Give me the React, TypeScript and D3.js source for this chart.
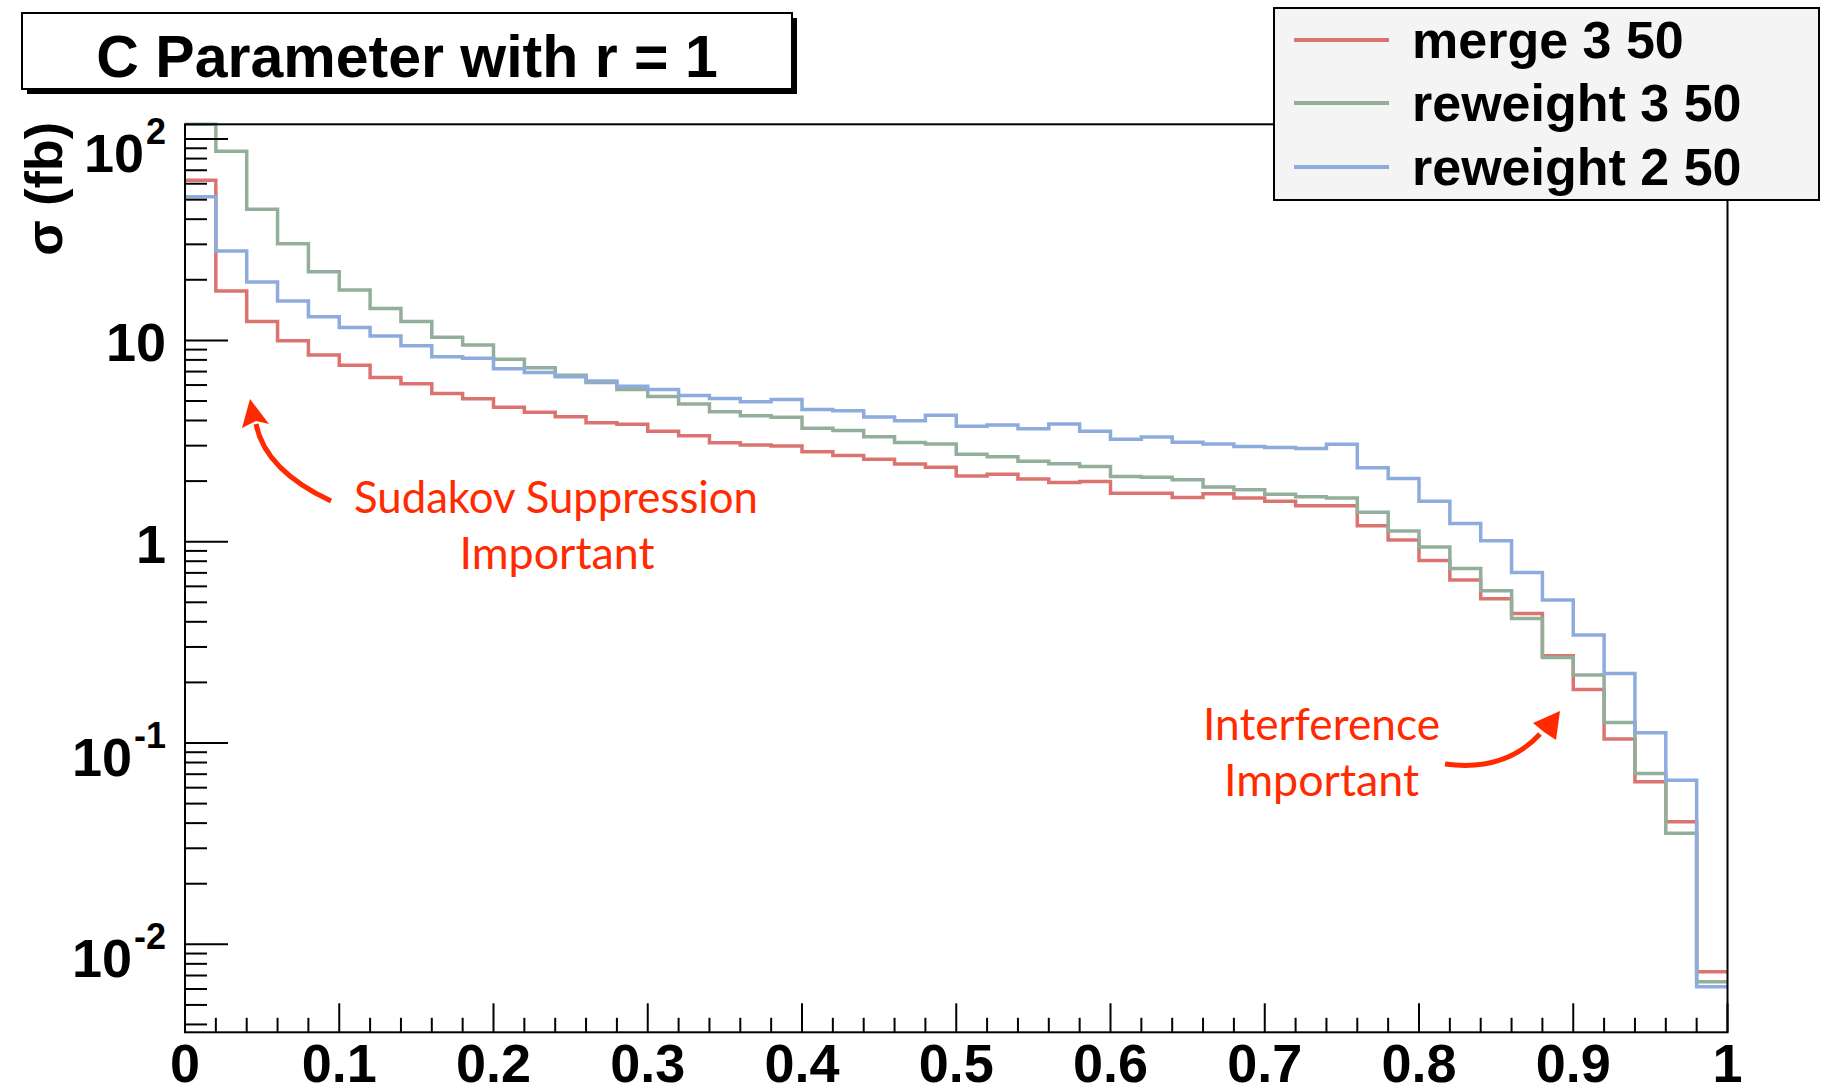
import React from "react";
import * as d3 from "d3";

// ---------- data ----------
const binLowEdges = d3.range(50).map((i) => i * 0.02);
const binUpperEdge = 1.0;

const mergeValues = [
  62.5, 17.6, 12.4, 9.95, 8.45, 7.53, 6.55, 6.09, 5.45, 5.13,
  4.65, 4.39, 4.18, 3.9, 3.83, 3.54, 3.36, 3.1, 3.02, 2.99,
  2.8, 2.68, 2.57, 2.43, 2.34, 2.12, 2.16, 2.05, 1.97, 1.99,
  1.74, 1.74, 1.66, 1.73, 1.65, 1.59, 1.51, 1.51, 1.2, 1.02,
  0.807, 0.645, 0.52, 0.44, 0.271, 0.1845, 0.1046, 0.0642, 0.0406, 0.0073,
];
const reweight3Values = [
  125, 87.1, 44.8, 30.2, 21.9, 17.8, 14.4, 12.4, 10.35, 9.48,
  8.07, 7.31, 6.72, 6.18, 5.71, 5.27, 4.83, 4.42, 4.22, 4.15,
  3.66, 3.57, 3.32, 3.11, 3.06, 2.72, 2.64, 2.51, 2.44, 2.36,
  2.11, 2.09, 2.03, 1.87, 1.81, 1.72, 1.67, 1.65, 1.4, 1.13,
  0.94, 0.736, 0.571, 0.416, 0.266, 0.2175, 0.1265, 0.0706, 0.0356, 0.00651,
];
const reweight2Values = [
  51.7, 27.8, 19.5, 15.7, 13.1, 11.6, 10.5, 9.4, 8.29, 8.14,
  7.22, 6.93, 6.6, 6.28, 5.91, 5.71, 5.33, 5.15, 4.96, 5.09,
  4.53, 4.47, 4.16, 3.99, 4.25, 3.74, 3.8, 3.64, 3.84, 3.54,
  3.23, 3.31, 3.12, 3.06, 2.97, 2.94, 2.9, 3.05, 2.33, 2.06,
  1.59, 1.23, 1.01, 0.703, 0.513, 0.344, 0.2216, 0.1124, 0.0654, 0.00615,
];

const seriesNames = ["merge 3 50", "reweight 3 50", "reweight 2 50"];
const seriesColors = ["#db7470", "#93ae9a", "#8dabdc"];
const seriesValues = [mergeValues, reweight3Values, reweight2Values];

const xTickValues = [0, 0.1, 0.2, 0.3, 0.4, 0.5, 0.6, 0.7, 0.8, 0.9, 1];
const xTickLabels = ["0", "0.1", "0.2", "0.3", "0.4", "0.5", "0.6", "0.7", "0.8", "0.9", "1"];
const yTickValues = [100, 10, 1, 0.1, 0.01];
const yTickBase = ["10", "10", "1", "10", "10"];
const yTickExp = ["2", "", "", "-1", "-2"];

const titleText = "C Parameter with r = 1";
const yAxisTitle = "σ (fb)";

// ---------- layout ----------
const W = 1821;
const H = 1089;
const L = 185;
const R = 1727.5;
const T = 124.3;
const B = 1032.3;
const yDomain: [number, number] = [0.003656, 118.4];

const FONT = "'Liberation Sans', Arial, Helvetica, sans-serif";
const ANN_FONT = "Lato, 'Open Sans', sans-serif";
const ANN_COLOR = "#ff2a00";

export default function App() {
  const x = d3.scaleLinear().domain([0, 1]).range([L, R]);
  const y = d3.scaleLog().domain(yDomain).range([B, T]).clamp(true);

  const line = d3
    .line<[number, number]>()
    .x((d) => x(d[0]))
    .y((d) => y(d[1]))
    .curve(d3.curveStepAfter);

  const paths = seriesValues.map((vals) => {
    const pts: [number, number][] = vals.map((v, i) => [binLowEdges[i], v]);
    pts.push([binUpperEdge, vals[vals.length - 1]]);
    return line(pts) as string;
  });

  // x minor ticks
  const xMinor = d3.range(0, 51).map((i) => i * 0.02).filter((v, i) => i % 5 !== 0);
  // y minor ticks
  const yMinor: number[] = [];
  for (let e = -3; e <= 2; e++) {
    for (let k = 2; k <= 9; k++) {
      const v = k * Math.pow(10, e);
      if (v >= yDomain[0] && v <= yDomain[1]) yMinor.push(v);
    }
  }

  const legendX = 1274;
  const legendY = 8;
  const legendW = 545;
  const legendH = 192;
  const legendRows = [40, 103, 167];

  return (
    <svg
      width={W}
      height={H}
      viewBox={`0 0 ${W} ${H}`}
      style={{ position: "absolute", left: 0, top: 0, background: "#fff" }}
    >
      <rect x={0} y={0} width={W} height={H} fill="#fff" />

      {/* histograms */}
      <g fill="none" strokeWidth={3.5} strokeLinejoin="miter" strokeLinecap="butt">
        {paths.map((p, i) => (
          <path key={i} d={p} stroke={seriesColors[i]} />
        ))}
      </g>

      {/* frame */}
      <rect x={L} y={T} width={R - L} height={B - T} fill="none" stroke="#000" strokeWidth={2} />

      {/* x ticks */}
      <g stroke="#000" strokeWidth={2}>
        {xTickValues.map((v, i) => (
          <line key={"xM" + i} x1={x(v)} x2={x(v)} y1={B} y2={B - 29} />
        ))}
        {xMinor.map((v, i) => (
          <line key={"xm" + i} x1={x(v)} x2={x(v)} y1={B} y2={B - 14.5} />
        ))}
        {yTickValues.map((v, i) => (
          <line key={"yM" + i} x1={L} x2={L + 43} y1={y(v)} y2={y(v)} />
        ))}
        {yMinor.map((v, i) => (
          <line key={"ym" + i} x1={L} x2={L + 22} y1={y(v)} y2={y(v)} />
        ))}
      </g>

      {/* x labels */}
      <g fontFamily={FONT} fontWeight="bold" fontSize={54} fill="#000" textAnchor="middle">
        {xTickValues.map((v, i) => (
          <text key={"xl" + i} x={x(v)} y={1082}>
            {xTickLabels[i]}
          </text>
        ))}
      </g>

      {/* y labels */}
      <g fontFamily={FONT} fontWeight="bold" fontSize={54} fill="#000" textAnchor="end">
        {yTickValues.map((v, i) =>
          yTickExp[i] ? (
            <text key={"yl" + i} x={166} y={y(v) + 33}>
              <tspan>{yTickBase[i]}</tspan>
              <tspan dx={2} dy={-28} fontSize={36}>
                {yTickExp[i]}
              </tspan>
            </text>
          ) : (
            <text key={"yl" + i} x={166} y={y(v) + 21}>
              {yTickBase[i]}
            </text>
          )
        )}
      </g>

      {/* y axis title */}
      <text
        transform="translate(62,122) rotate(-90)"
        textAnchor="end"
        fontFamily={FONT}
        fontWeight="bold"
        fontSize={52}
        fill="#000"
      >
        {yAxisTitle}
      </text>

      {/* title box */}
      <rect x={27} y={18} width={770} height={76} fill="#000" />
      <rect x={22} y={13} width={770} height={76} fill="#fff" stroke="#000" strokeWidth={2} />
      <text
        x={407}
        y={77}
        textAnchor="middle"
        fontFamily={FONT}
        fontWeight="bold"
        fontSize={59}
        fill="#000"
      >
        {titleText}
      </text>

      {/* legend */}
      <rect
        x={legendX}
        y={legendY}
        width={legendW}
        height={legendH}
        fill="#f4f4f4"
        stroke="#000"
        strokeWidth={2}
      />
      {seriesNames.map((n, i) => (
        <g key={"lg" + i}>
          <line
            x1={1294}
            x2={1389}
            y1={legendRows[i]}
            y2={legendRows[i]}
            stroke={seriesColors[i]}
            strokeWidth={4}
          />
          <text
            x={1412}
            y={legendRows[i] + 18}
            fontFamily={FONT}
            fontWeight="bold"
            fontSize={52}
            fill="#000"
          >
            {n}
          </text>
        </g>
      ))}

      {/* annotations */}
      <g fontFamily={ANN_FONT} fontSize={45} fill={ANN_COLOR} textAnchor="middle">
        <text x={556} y={513} textLength={404} lengthAdjust="spacingAndGlyphs">
          Sudakov Suppression
        </text>
        <text x={557} y={569} textLength={195} lengthAdjust="spacingAndGlyphs">
          Important
        </text>
        <text x={1321.5} y={740} textLength={237} lengthAdjust="spacingAndGlyphs">
          Interference
        </text>
        <text x={1321.5} y={796} textLength={195} lengthAdjust="spacingAndGlyphs">
          Important
        </text>
      </g>
      <g stroke={ANN_COLOR} strokeWidth={5} fill="none" strokeLinecap="butt">
        <path d="M 331 501 Q 265 470 256 424" />
        <path d="M 1445 764 Q 1505 772 1540 734" />
      </g>
      <g fill={ANN_COLOR}>
        <polygon points="250,399 242,428 256,421 269,424" />
        <polygon points="1560,711 1533,723 1544,732 1556,740" />
      </g>
    </svg>
  );
}
